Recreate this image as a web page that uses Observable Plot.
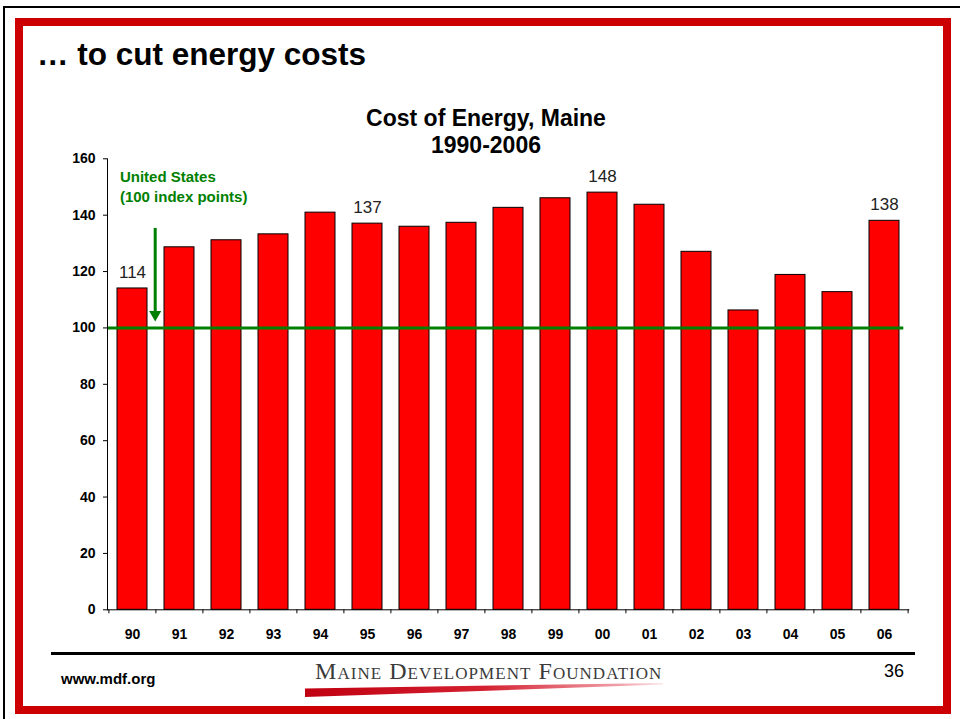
<!DOCTYPE html>
<html><head><meta charset="utf-8">
<script src="https://cdn.jsdelivr.net/npm/d3@7"></script>
<script src="https://cdn.jsdelivr.net/npm/@observablehq/plot@0.6"></script>
<style>
html,body{margin:0;padding:0;background:#fff;}
#page{position:relative;width:960px;height:719px;overflow:hidden;font-family:"Liberation Sans",Arial,sans-serif;color:#000;}
#page > div{position:absolute;white-space:nowrap;}
#blk{left:3px;top:6px;width:980px;height:730px;border-top:2px solid #000;border-left:2px solid #000;}
#red{left:15px;top:18px;width:936px;height:696px;border:8px solid #cc0000;box-sizing:border-box;}
#chart{left:0;top:0;}
#title{left:37px;top:39.2px;font:700 31.5px/31px "Liberation Sans",Arial,sans-serif;}
#ctitle{left:286px;width:400px;top:104.6px;text-align:center;font:700 23px/27.6px "Liberation Sans",Arial,sans-serif;}
#sep{left:51px;top:652px;width:864px;height:3px;background:#000;}
#url{left:61px;top:670.6px;font:700 15px/15px "Liberation Sans",Arial,sans-serif;}
#logo{left:315px;top:658.5px;font:400 24px/24px "Liberation Serif","Times New Roman",serif;font-variant:small-caps;letter-spacing:1.05px;color:#3a3a3a;}
#swoosh{left:305px;top:682px;width:358px;height:16px;background:linear-gradient(to right,#c00010,#d42030 50%,#f0a0a8 88%,#fde8ea);clip-path:polygon(0 40%,100% 6%,100% 16%,0 94%);}
#pg{left:874px;width:40px;top:661.8px;text-align:center;font:400 18px/18px "Liberation Sans",Arial,sans-serif;}
</style></head>
<body><div id="page">
<div id="blk"></div>
<div id="red"></div>
<div id="chart"></div>
<div id="title">… to cut energy costs</div>
<div id="ctitle">Cost of Energy, Maine<br>1990-2006</div>
<div id="sep"></div>
<div id="url">www.mdf.org</div>
<div id="logo">Maine Development Foundation</div>
<div id="swoosh"></div>
<div id="pg">36</div>
</div>
<script>
// Data (index, United States = 100)
const years = ["90","91","92","93","94","95","96","97","98","99","00","01","02","03","04","05","06"];
const values = [114, 128.6, 131.1, 133.2, 140.9, 137, 135.9, 137.3, 142.6, 146.0, 148, 143.7, 127.0, 106.2, 118.8, 112.7, 138];
const labelYears = ["90","95","00","06"];
const labelValues = [114, 137, 148, 138];
const usIndex = 100;
const yTicks = [0, 20, 40, 60, 80, 100, 120, 140, 160];
const annotationLines = ["United States", "(100 index points)"];

const data = years.map((year, i) => ({year, value: values[i]}));
const labels = labelYears.map((year, i) => ({year, value: labelValues[i]}));

const W = 960, H = 719, mL = 107, mR = 50.7, mT = 158.3, mB = 109.7;
const step = (W - mL - mR) / years.length;
const green = "#008000";

const chart = Plot.plot({
  width: W, height: H,
  marginLeft: mL, marginRight: mR, marginTop: mT, marginBottom: mB,
  style: {background: "transparent", fontFamily: "'Liberation Sans', Arial, sans-serif", color: "#000", overflow: "visible"},
  x: {type: "band", domain: years, paddingInner: 0.365, paddingOuter: 0.1825},
  y: {domain: [0, 160]},
  marks: [
    Plot.barY(data, {x: "year", y: "value", fill: "#ff0000", stroke: "#000", strokeWidth: 1}),
    Plot.ruleY([usIndex], {stroke: green, strokeWidth: 3, insetRight: 6}),
    Plot.ruleY([0], {stroke: "#000"}),
    Plot.frame({anchor: "left", stroke: "#000"}),
    Plot.ruleX(years, {x: d => d, y1: 0, y2: 0, insetBottom: -4, dx: -step / 2, stroke: "#000"}),
    Plot.ruleX([years[years.length - 1]], {x: d => d, y1: 0, y2: 0, insetBottom: -4, dx: step / 2, stroke: "#000"}),
    Plot.axisY({ticks: yTicks, tickSize: 4, tickPadding: 8, fontSize: 14, fontWeight: "bold", label: null, tickFormat: d => d}),
    Plot.axisX({tickSize: 0, tickPadding: 18.8, fontSize: 14, fontWeight: "bold", label: null}),
    Plot.text(labels, {x: "year", y: "value", text: d => String(d.value), dy: -15.8, fontSize: 17, fill: "#222"}),
    Plot.ruleX([years[0]], {x: d => d, y1: 135.3, y2: 105.5, dx: 22.7, stroke: green, strokeWidth: 3}),
    Plot.dot([years[0]], {x: d => d, y: 104.8, dx: 22.7, symbol: "triangle", rotate: 180, r: 4.5, fill: green, stroke: "none"}),
    Plot.text([years[0]], {x: d => d, y: 153.5, text: () => annotationLines[0], textAnchor: "start", dx: -12.6, fill: green, fontSize: 15, fontWeight: "bold"}),
    Plot.text([years[0]], {x: d => d, y: 146.3, text: () => annotationLines[1], textAnchor: "start", dx: -12.6, fill: green, fontSize: 15, fontWeight: "bold"})
  ]
});
document.getElementById("chart").appendChild(chart);
</script>
</body></html>
